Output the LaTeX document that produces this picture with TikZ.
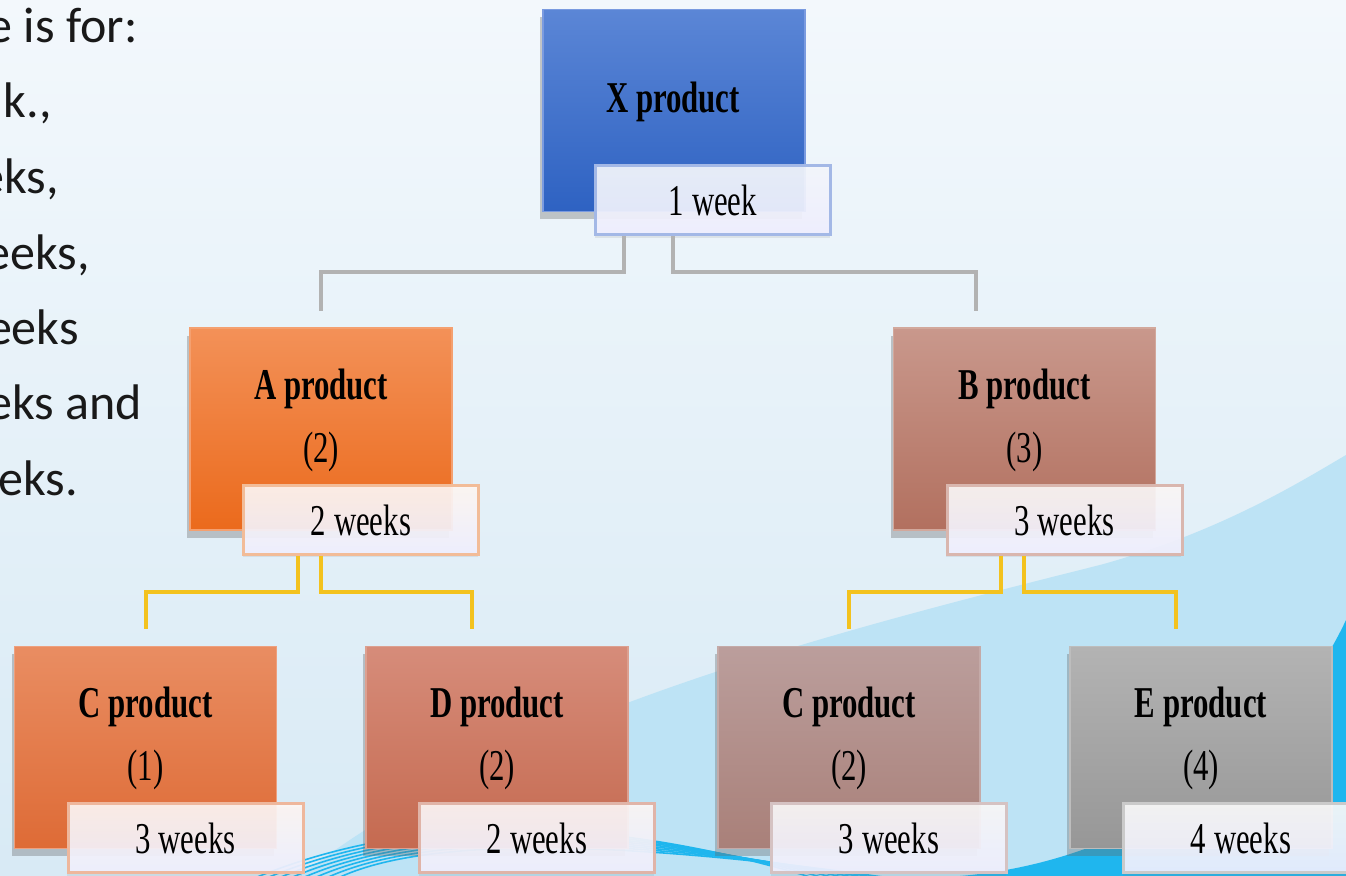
\documentclass[tikz,border=0pt]{standalone}
\usepackage{fontspec}
\newfontfamily\boxfont[FakeStretch=0.7]{Liberation Serif}
\newfontfamily\notefont{Carlito}
\usetikzlibrary{calc,shadows}

\definecolor{bgtop}{HTML}{F3F8FC}
\definecolor{bgbot}{HTML}{D8EAF5}
\definecolor{waveblue}{HTML}{BDE3F5}
\definecolor{wavecyan}{HTML}{1FB6EE}
\definecolor{linegrey}{HTML}{B2B2B2}
\definecolor{lineyellow}{HTML}{F3C21E}
\definecolor{xtop}{HTML}{5B86D6}\definecolor{xbot}{HTML}{2E62C2}
\definecolor{xline}{HTML}{7A9BE0}\definecolor{xedge}{HTML}{A3B8E6}
\definecolor{atop}{HTML}{F39158}\definecolor{abot}{HTML}{EB6A1C}
\definecolor{aline}{HTML}{F4A070}\definecolor{aedge}{HTML}{F2BC98}
\definecolor{btop}{HTML}{C9988C}\definecolor{bbot}{HTML}{B2705F}
\definecolor{bline}{HTML}{D2A89C}\definecolor{bedge}{HTML}{D9B6AE}
\definecolor{ctop}{HTML}{E98D62}\definecolor{cbot}{HTML}{DE6B36}
\definecolor{cline}{HTML}{EEA07E}\definecolor{cedge}{HTML}{EEB79C}
\definecolor{dtop}{HTML}{D68C7A}\definecolor{dbot}{HTML}{C56A50}
\definecolor{dline}{HTML}{DCA090}\definecolor{dedge}{HTML}{E0B4A8}
\definecolor{gtop}{HTML}{BB9E9C}\definecolor{gbot}{HTML}{A98079}
\definecolor{gline}{HTML}{C4AAA8}\definecolor{gedge}{HTML}{D5C2C2}
\definecolor{etop}{HTML}{B3B3B3}\definecolor{ebot}{HTML}{979797}
\definecolor{eline}{HTML}{BDBDBD}\definecolor{eedge}{HTML}{CACACA}

\begin{document}
\begin{tikzpicture}[
    x = 0.5pt, y = -0.5pt, % one unit is one pixel, y goes down
    greyline/.style = {draw = linegrey, line width = 2pt, shorten > = 8pt},
    yellowline/.style = {draw = lineyellow, line width = 2pt, shorten > = 8.5pt},
    note/.style = {anchor = base east, inner sep = 0pt, font = \notefont\fontsize{25}{29}\selectfont, text = black!90}
    ]

    \tikzset{
    prodbox/.style = {
    rectangle,
    minimum width = 131pt,
    minimum height = 101pt,
    inner sep = 0pt,
    line width = 0.8pt,
    drop shadow = {shadow xshift = -1.5pt, shadow yshift = -4pt, opacity = 0.35, fill = black!60}
    },
    timebox/.style = {
    rectangle,
    minimum width = 117.5pt,
    minimum height = 34.5pt,
    inner sep = 0pt,
    line width = 1.5pt,
    bottom color = white!94!blue,
    fill opacity = 0.92, text opacity = 1,
    drop shadow = {shadow xshift = -0.5pt, shadow yshift = -1.5pt, opacity = 0.15},
    font = \boxfont\fontsize{22}{26}\selectfont
    },
    title/.style = {anchor = base, font = \boxfont\bfseries\fontsize{22}{26}\selectfont},
    qty/.style = {anchor = base, font = \boxfont\fontsize{22}{26}\selectfont}
    }

    \useasboundingbox (0,0) rectangle (1346,876);
    \clip (0,0) rectangle (1346,876);

    % background
    \shade[top color = bgtop, bottom color = bgbot] (0,0) rectangle (1346,876);
    \fill[waveblue] (300,876) .. controls (500,720) and (800,640) .. (1100,565)
        .. controls (1220,532) and (1300,482) .. (1346,455) -- (1346,876) -- cycle;
    \fill[wavecyan] (960,876) .. controls (1150,860) and (1290,740) .. (1346,620) -- (1346,876) -- cycle;
    \foreach \i in {0,...,7}
    \draw[wavecyan, line width = 0.8pt] (250+12*\i,880) .. controls (420,808+4*\i) and (620,818+3*\i) .. (820+12*\i,880);

    % text on the left
    \node[note] (n1) at (138,43) {e is for:};
    \node[note] (n2) at (52,118) {k.,};
    \node[note] (n3) at (59,194) {eks,};
    \node[note] (n4) at (90,270) {eeks,};
    \node[note] (n5) at (79,345) {eeks};
    \node[note] (n6) at (142,420) {eks and};
    \node[note] (n7) at (78,496) {eks.};

    % top
    \node[prodbox, top color = xtop, bottom color = xbot, draw = xline] (X) at (674,110.5) {};
    \node[title] (X-name) at ($(X.north)+(-1,104)$) {X product};
    \node[timebox, draw = xedge, top color = xtop!7!white] (X-time) at ($(X)+(39,90)$) {1 week};

    % second row
    \node[prodbox, top color = atop, bottom color = abot, draw = aline] (A) at (321,429) {};
    \node[title] (A-name) at ($(A.north)+(0,72)$) {A product};
    \node[qty] (A-qty) at ($(A.north)+(0,135)$) {(2)};
    \node[timebox, draw = aedge, top color = atop!8!white] (A-time) at ($(A)+(40,91)$) {2 weeks};

    \node[prodbox, top color = btop, bottom color = bbot, draw = bline] (B) at (1024.5,429) {};
    \node[title] (B-name) at ($(B.north)+(0,72)$) {B product};
    \node[qty] (B-qty) at ($(B.north)+(0,135)$) {(3)};
    \node[timebox, draw = bedge, top color = btop!8!white] (B-time) at ($(B)+(40,91)$) {3 weeks};

    % third row
    \node[prodbox, top color = ctop, bottom color = cbot, draw = cline] (C1) at (145.5,747.5) {};
    \node[title] (C1-name) at ($(C1.north)+(0,72)$) {C product};
    \node[qty] (C1-qty) at ($(C1.north)+(0,135)$) {(1)};
    \node[timebox, draw = cedge, top color = ctop!8!white] (C1-time) at ($(C1)+(40,91)$) {3 weeks};

    \node[prodbox, top color = dtop, bottom color = dbot, draw = dline] (D) at (497,747.5) {};
    \node[title] (D-name) at ($(D.north)+(0,72)$) {D product};
    \node[qty] (D-qty) at ($(D.north)+(0,135)$) {(2)};
    \node[timebox, draw = dedge, top color = dtop!8!white] (D-time) at ($(D)+(40,91)$) {2 weeks};

    \node[prodbox, top color = gtop, bottom color = gbot, draw = gline] (C2) at (849,747.5) {};
    \node[title] (C2-name) at ($(C2.north)+(0,72)$) {C product};
    \node[qty] (C2-qty) at ($(C2.north)+(0,135)$) {(2)};
    \node[timebox, draw = gedge, top color = gtop!8!white] (C2-time) at ($(C2)+(40,91)$) {3 weeks};

    \node[prodbox, top color = etop, bottom color = ebot, draw = eline] (E) at (1201,747.5) {};
    \node[title] (E-name) at ($(E.north)+(0,72)$) {E product};
    \node[qty] (E-qty) at ($(E.north)+(0,135)$) {(4)};
    \node[timebox, draw = eedge, top color = etop!8!white] (E-time) at ($(E)+(40,91)$) {4 weeks};

    % connectors
    \draw[greyline] ($(X.center |- X-time.south)+(-50,0)$) -- ++(0,36) -| (A.north);
    \draw[greyline] ($(X.center |- X-time.south)+(-1,0)$) -- ++(0,36) -| ($(B.north)+(-48.5,0)$);
    \draw[yellowline] ($(A.center |- A-time.south)+(-23,0)$) -- ++(0,36) -| (C1.north);
    \draw[yellowline] (A.center |- A-time.south) -- ++(0,36) -| ($(D.north)+(-25,0)$);
    \draw[yellowline] ($(B.center |- B-time.south)+(-24,0)$) -- ++(0,36) -| (C2.north);
    \draw[yellowline] ($(B.center |- B-time.south)+(-1,0)$) -- ++(0,36) -| ($(E.north)+(-25,0)$);
\end{tikzpicture}
\end{document}
